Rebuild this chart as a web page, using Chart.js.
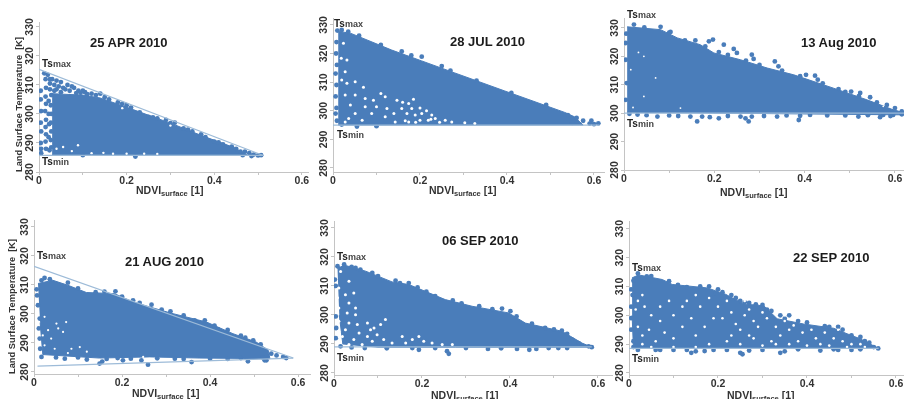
<!DOCTYPE html>
<html>
<head>
<meta charset="utf-8">
<script src="https://cdn.jsdelivr.net/npm/chart.js@4"></script>
<style>
html, body { margin: 0; padding: 0; background: #fff; width: 904px; height: 399px; overflow: hidden; }
#wrap { position: absolute; left: 0; top: 0; width: 904px; height: 399px; overflow: hidden; filter: blur(0.5px); }
canvas { position: absolute; }
.lbl { position: absolute; font-family: "Liberation Sans", Arial, sans-serif; font-weight: bold; white-space: nowrap; transform: translateY(-50%); }
.date { font-size: 13px; color: #1c1c1c; }
.ts { font-size: 10px; color: #222; }
.ts span { font-size: 9px; color: #444; }
.xt { font-size: 10.5px; color: #333; }
.xt sub { font-size: 7.5px; vertical-align: -2px; line-height: 0; }
</style>
</head>
<body>
<div id="wrap"></div>
<script>
const blue = "#4a7dba";
const lineBlue = "#9dbbd8";

const yTicks = [280, 290, 300, 310, 320, 330];
const xTicks = [0, 0.1, 0.2, 0.3, 0.4, 0.5, 0.6];
const xLabels = ["0", "", "0.2", "", "0.4", "", "0.6"];

// 25 APR 2010
const core1 = [[.03,307],[.10,306.5],[.14,305.5],[.215,301.5],[.306,296.5],[.367,292.8],[.444,288.5],[.474,286],[.03,286]];
const dots1 = [[.004,308],[.004,305],[.005,301],[.004,297],[.005,294],[.004,290],[.005,288],[.005,286.5],[.015,312],[.016,309],[.015,306],[.016,303.5],[.014,301],[.016,298],[.015,295.5],[.016,293],[.015,290.5],[.016,288],[.022,304.5],[.022,300],[.023,296.5],[.022,292],[.024,287.5],[.02,313.5],[.03,312],[.035,310],[.025,308.5],[.04,308.5],[.05,311],[.055,309],[.065,310],[.07,308],[.08,309],[.09,308],[.095,307.3],[.105,307.5],[.12,307],[.13,306.5],[.14,307],[.05,307.5],[.16,305],[.19,303.5],[.2,303],[.23,300.5],[.25,299],[.27,298.5],[.29,298],[.31,297],[.33,295],[.35,294],[.38,292],[.4,290.5],[.42,289.5],[.45,288],[.46,287],[.47,287],[.48,286.5],[.49,286],[.5,285.7],[.507,285.8],[.485,285.5],[.465,285.8],[.22,285.3],[.1,285.8],[.012,314],[.025,312],[.04,311.5],[.045,309.5],[.06,308.5],[.075,309.5],[.1,308],[.11,306.8],[.025,310.5],[.028,306.5],[.027,303],[.028,300],[.027,297],[.028,294],[.027,291],[.028,288.5],[.035,308],[.085,307.2],[.15,305.8],[.18,304],[.21,302.2],[.26,298.8],[.3,296.8],[.34,294.6],[.37,293],[.41,290.2],[.44,288.7]];
const holes1 = [[.055,288.6],[.089,289.2],[.147,286.6],[.169,286.3],[.2,286.3],[.04,288],[.075,287.2],[.12,286.5],[.24,286.3],[.27,286.2],[.19,302],[.3,296]];
const tsmax1 = [[0,315.4],[.512,285.7]];
const tsmin1 = [[0,285.7],[.512,285.7]];

// 28 JUL 2010
const core2 = [[.012,327.7],[.04,327.1],[.135,321.2],[.204,317.4],[.28,313.2],[.395,306.9],[.533,299.4],[.555,297.9],[.575,295],[.012,295]];
const dots2 = [[.01,328],[.02,328.2],[.035,327.6],[.158,320.7],[.204,318.9],[.25,315.6],[.008,324],[.007,320],[.009,316],[.006,313],[.008,309],[.006,305],[.008,301],[.006,299],[.009,296.5],[.02,295.2],[.055,294.5],[.1,294.6],[.594,296.5],[.61,295.6],[.575,296.5],[.56,297.5],[.54,298.5],[.59,295.5],[.6,295.3],[.55,295.8],[.06,326.2],[.11,323],[.18,319.3],[.27,314],[.33,310.5],[.41,306.2],[.49,302]];
const holes2 = [[.024,323.6],[.019,318.3],[.032,317.7],[.028,313.6],[.02,310.7],[.032,309.6],[.051,310.1],[.07,308.2],[.028,305.5],[.051,305.5],[.074,304.3],[.093,303.7],[.074,301.4],[.1,301.4],[.12,304.9],[.124,300.8],[.147,303.7],[.158,300.8],[.174,302.5],[.181,300.8],[.17,299],[.189,298.5],[.204,299],[.227,298.5],[.235,297.3],[.219,296.7],[.166,296.5],[.2,296.7],[.12,297.9],[.089,299],[.051,299],[.036,297.3],[.028,296.1],[.067,296.7],[.258,296.7],[.273,296.1],[.303,295.8],[.326,295.5],[.143,296.1],[.174,296.1],[.04,302],[.11,306],[.14,299],[.19,296],[.16,303],[.2,301],[.185,304],[.215,300],[.225,297],[.245,296]];
const tsmin2 = [[0,295],[.613,295]];

// 13 Aug 2010
const core3 = [[.007,330.4],[.081,329.4],[.118,326.5],[.169,324.1],[.199,321.2],[.258,318.8],[.317,315.9],[.376,313.5],[.464,308.8],[.538,304.7],[.596,301.2],[.625,300],[.625,299.4],[.007,300.3]];
const dots3 = [[.022,331.2],[.045,330.2],[.081,330.4],[.103,328.6],[.158,325.6],[.188,325.3],[.197,325.9],[.221,324.1],[.243,322.6],[.25,321.2],[.283,320.6],[.287,319.1],[.334,318.2],[.342,316.5],[.403,313.5],[.423,313.2],[.429,311.8],[.475,308.5],[.503,307.6],[.523,307.1],[.545,305.6],[.582,302.9],[.6,301.8],[.615,300.6],[.074,298.8],[.147,298.8],[.162,297.1],[.173,298.8],[.21,298.2],[.258,298.8],[.269,298.2],[.276,297.1],[.283,298.8],[.339,298.8],[.387,297.6],[.39,299.1],[.412,299.4],[.519,298.8],[.567,298.6],[.574,299.4],[.596,299.4],[.615,299.6],[.004,324.7],[.004,318.8],[.006,310.6],[.004,304.7],[.012,299.8],[.005,328],[.1,328.3],[.135,325.6],[.18,323.5],[.21,321.5],[.23,320.5],[.27,318.5],[.3,317],[.35,315],[.39,313],[.44,310.5],[.49,307.5],[.52,306],[.56,303.8],[.03,299.5],[.05,299.3],[.1,299.2],[.12,299],[.19,298.6],[.23,299],[.31,299],[.36,299.2],[.45,299.2],[.49,299.2],[.54,299.3],[.59,299]];
const holes3 = [[.032,321.4],[.015,315.3],[.044,320],[.07,312.4],[.044,305.9],[.125,301.8],[.574,302.4],[.02,302]];
const tsmin3 = [[0,300],[.62,300]];

// 21 AUG 2010
const core4 = [[.009,310.5],[.043,311.6],[.077,309.9],[.119,307.4],[.183,307],[.225,304.1],[.263,302.4],[.316,300.1],[.392,297.2],[.452,293.2],[.505,290.3],[.532,287.5],[.536,284.6],[.377,284.8],[.263,285.2],[.149,284.8],[.02,286],[.014,297]];
const dots4 = [[.566,285.2],[.551,285.7],[.539,286.3],[.573,284.8],[.528,284],[.52,285],[.185,307.8],[.225,304.7],[.267,303.2],[.31,300.9],[.365,297.8],[.388,297.8],[.418,294.7],[.498,290.9],[.149,282.9],[.155,283.6],[.259,282.5],[.244,284],[.358,283.4],[.486,283.7],[.524,284],[.202,284],[.07,284.6],[.017,285.2],[.013,298.4],[.011,295],[.013,291.5],[.014,288],[.007,306.4],[.009,303],[.006,308.5],[.017,311.6],[.024,312.4],[.036,312],[.077,310.8],[.1,308.8],[.14,307.5],[.16,307.7],[.2,306],[.24,303.8],[.29,301.5],[.34,299.5],[.41,296],[.44,294.5],[.47,292.5],[.48,291.8],[.515,289.5],[.05,285],[.1,285],[.12,284.3],[.165,284.5],[.19,284.8],[.22,284.6],[.28,284.7],[.32,284.6],[.34,284.5],[.4,284.6],[.44,284.5],[.47,284.8]];
const holes4 = [[.051,296.7],[.032,294.4],[.055,295],[.024,299],[.039,291.5],[.024,289.2],[.085,288],[.104,288.6],[.066,293.8],[.02,292.6],[.073,297.2],[.248,285.2],[.077,286.5],[.047,288],[.12,287]];
const tsmax4 = [[0,316.4],[.589,284.8]];
const tsmin4 = [[.008,282],[.589,284.8]];

// 06 SEP 2010
const core5 = [[.008,316],[.023,317.2],[.072,315.1],[.132,311.4],[.17,310.5],[.253,305.3],[.314,303],[.397,300.7],[.435,297.2],[.518,294.4],[.564,290.3],[.586,288.9],[.42,288.9],[.276,288.9],[.1,288.9],[.02,290],[.012,300]];
const dots5 = [[.002,312.2],[.004,310],[.004,299.5],[.005,295.5],[.004,292],[.015,289.2],[.07,288.6],[.178,288.6],[.193,288],[.257,287.5],[.261,286.6],[.416,288.3],[.444,288],[.488,288.6],[.51,288.6],[.586,288.9],[.579,289.2],[.556,290.3],[.541,291.5],[.518,294.6],[.401,301.3],[.382,302.2],[.17,311],[.14,311.8],[.023,317.4],[.008,316.8],[.087,314.5],[.049,316.2],[.04,316.6],[.06,315.6],[.1,313.4],[.15,311],[.19,309.5],[.21,308],[.23,306.5],[.27,305],[.29,304],[.33,303],[.36,302],[.415,299.5],[.45,297],[.48,295.5],[.5,295],[.53,293.5],[.04,288.8],[.12,288.5],[.23,288.6],[.3,288.6],[.35,288.3],[.38,288.5],[.46,288.3],[.53,288.6]];
const holes5 = [[.015,315],[.034,311.6],[.011,309.3],[.026,307],[.008,305.9],[.034,304.1],[.011,302.4],[.03,300.7],[.049,300.1],[.034,297.2],[.011,297.8],[.053,296.7],[.076,297.2],[.026,294.9],[.057,293.8],[.083,294.9],[.019,292.6],[.045,291.5],[.076,292.6],[.091,295.5],[.098,293.2],[.106,296.7],[.117,298.4],[.011,294.4],[.113,291.5],[.155,292.6],[.178,291.5],[.193,292.6],[.204,290.9],[.223,290.3],[.246,289.8],[.269,289.8],[.132,290.3],[.163,290.3],[.049,302.4],[.045,307.6],[.087,290.9],[.064,289.8],[.034,289.8]];
const tsmin5 = [[0,289],[.586,289]];

// 22 SEP 2010
const core6 = [[.007,313],[.022,314],[.075,312.4],[.097,310.7],[.176,309.5],[.217,307.3],[.258,303.9],[.303,303.3],[.333,298.8],[.392,297],[.46,295.5],[.49,293.6],[.519,291.9],[.561,288.5],[.01,288.5],[.007,300]];
const dots6 = [[.02,314.5],[.04,313.5],[.01,312],[.005,309],[.008,307],[.18,310],[.2,309],[.195,307.5],[.23,307],[.25,305],[.26,304.5],[.3,303.6],[.31,302],[.36,300],[.38,298],[.42,295.5],[.45,296],[.47,296],[.5,293],[.51,291.5],[.54,290.5],[.55,289],[.56,288.5],[.14,287],[.15,287.5],[.25,287],[.255,286.5],[.34,287],[.35,287.5],[.47,288],[.5,288],[.02,288],[.07,288],[.22,288],[.005,303],[.005,299],[.005,295],[.01,291],[.01,289],[.13,288],[.05,313.6],[.09,311.8],[.11,310.5],[.13,309.8],[.16,310],[.21,308],[.24,306],[.27,304.3],[.285,303.8],[.32,301.5],[.34,300],[.35,298.8],[.4,297.5],[.44,296.2],[.48,295],[.52,292.5],[.53,291],[.06,288],[.1,288],[.17,287.6],[.19,288],[.27,287.8],[.3,288],[.38,288.2],[.43,287.8],[.46,288.2],[.52,288.2]];
const holes6 = [[.03,307],[.02,305],[.035,303],[.015,302],[.05,300],[.07,298],[.1,300],[.045,295],[.03,293],[.07,303],[.09,305],[.12,303],[.14,299],[.13,305],[.15,307],[.16,303],[.18,306],[.2,303],[.22,305],[.19,299],[.17,296],[.21,299],[.23,301],[.24,297],[.26,300],[.27,302],[.25,295],[.28,298],[.29,296],[.31,299],[.3,301],[.33,296],[.35,298],[.36,295],[.34,293],[.37,296.5],[.39,294],[.41,295],[.38,291],[.42,292],[.44,294],[.43,290],[.46,292],[.45,289.5],[.48,291],[.47,295],[.5,290],[.49,289],[.52,290],[.53,289],[.4,289.5],[.36,290],[.32,291],[.28,292],[.22,291],[.15,293],[.1,292],[.06,291],[.03,290],[.02,296],[.08,294],[.12,296],[.25,290],[.18,290],[.3,289.5],[.1,289],[.15,289],[.05,289],[.23,293],[.27,293],[.33,290],[.35,300],[.26,305]];
const tsmin6 = [[0,288.5],[.561,288.5]];

const xy = a => a.map(p => ({ x: p[0], y: p[1] }));

// left/right/top/bottom are the plot box in page pixels
const panels = [
  { left: 39, right: 308, top: 22, bottom: 172, xMax: .614, yMin: 280, yMax: 331.7, yTitlePad: 5, holeR: 1.2,
    core: core1, dots: dots1, holes: holes1, lines: [tsmax1, tsmin1],
    date: ["25 APR 2010", 90, 42], tsmax: [42, 63], tsmin: [42, 161], xt: [136, 190] },
  { left: 333, right: 604, top: 18, bottom: 172, xMax: .623, yMin: 278.6, yMax: 332.4, holeR: 1.5,
    core: core2, dots: dots2, holes: holes2, lines: [tsmin2],
    date: ["28 JUL 2010", 450, 41], tsmax: [334, 23], tsmin: [337, 134], xt: [429, 190] },
  { left: 624, right: 904, top: 18, bottom: 170, xMax: .62, yMin: 280, yMax: 333.5, holeR: 0.9,
    core: core3, dots: dots3, holes: holes3, lines: [tsmin3],
    date: ["13 Aug 2010", 801, 42], tsmax: [627, 14], tsmin: [627, 123], xt: [720, 192] },
  { left: 34, right: 310, top: 220, bottom: 374, xMax: .627, yMin: 279.3, yMax: 332.4, yTitlePad: 3, holeR: 1.1,
    core: core4, dots: dots4, holes: holes4, lines: [tsmax4, tsmin4],
    date: ["21 AUG 2010", 125, 261], tsmax: [37, 255], xt: [132, 393] },
  { left: 334, right: 612, top: 221, bottom: 375, xMax: .632, yMin: 279.3, yMax: 332.4, holeR: 1.5,
    core: core5, dots: dots5, holes: holes5, lines: [tsmin5],
    date: ["06 SEP 2010", 442, 240], tsmax: [337, 256], tsmin: [337, 357], xt: [431, 395] },
  { left: 629, right: 904, top: 221, bottom: 375, xMax: .618, yMin: 279.3, yMax: 332.7, holeR: 1.3,
    core: core6, dots: dots6, holes: holes6, lines: [tsmin6],
    date: ["22 SEP 2010", 793, 257], tsmax: [632, 267], tsmin: [632, 358], xt: [727, 395] }
];

const wrap = document.getElementById("wrap");
const font = { family: '"Liberation Sans", Arial, sans-serif', weight: "bold", size: 10.5 };
const axisW = 30, axisH = 22, padTop = 10, padRight = 14;

function addLabel(cls, html, x, y) {
  const d = document.createElement("div");
  d.className = "lbl " + cls;
  d.innerHTML = html;
  d.style.left = x + "px";
  d.style.top = y + "px";
  wrap.appendChild(d);
}

panels.forEach(p => {
  const c = document.createElement("canvas");
  c.width = axisW + (p.right - p.left) + padRight;
  c.height = padTop + (p.bottom - p.top) + axisH;
  c.style.left = (p.left - axisW) + "px";
  c.style.top = (p.top - padTop) + "px";
  wrap.appendChild(c);

  const datasets = [
    { data: xy(p.core), showLine: true, fill: "shape", tension: 0, pointRadius: 0, borderWidth: 1, borderColor: blue, backgroundColor: blue, order: 4 },
    { data: xy(p.dots), pointRadius: 2.4, pointBackgroundColor: blue, pointBorderWidth: 0, order: 3 },
    { data: xy(p.holes), pointRadius: p.holeR, pointBackgroundColor: "#fff", pointBorderWidth: 0, order: 2 }
  ];
  p.lines.forEach(l => datasets.push({ data: xy(l), showLine: true, pointRadius: 0, borderWidth: 1.2, borderColor: lineBlue, order: 1 }));

  new Chart(c, {
    type: "scatter",
    data: { datasets: datasets },
    options: {
      responsive: false,
      animation: false,
      layout: { padding: { top: padTop, right: padRight, left: 0, bottom: 0 } },
      plugins: { legend: { display: false }, tooltip: { enabled: false } },
      scales: {
        x: {
          type: "linear", min: 0, max: p.xMax,
          afterBuildTicks: s => { s.ticks = xTicks.map(v => ({ value: v })); },
          afterFit: s => { s.height = axisH; },
          border: { color: "#c4c4c4" },
          grid: { drawOnChartArea: false, tickLength: 3, color: "#c4c4c4" },
          ticks: { autoSkip: false, maxRotation: 0, padding: 0, color: "#333", font: font, callback: (v, i) => xLabels[i] }
        },
        y: {
          type: "linear", min: p.yMin, max: p.yMax,
          afterBuildTicks: s => { s.ticks = yTicks.map(v => ({ value: v })); },
          afterFit: s => { s.width = axisW; },
          border: { color: "#c4c4c4" },
          grid: { drawOnChartArea: false, tickLength: 3, color: "#c4c4c4" },
          title: { display: p.yTitlePad !== undefined, text: "Land Surface Temperature  [K]", align: "start", color: "#333", font: { family: font.family, weight: "bold", size: 9.3 }, padding: { top: p.yTitlePad || 0, bottom: 0 } },
          ticks: { minRotation: 90, maxRotation: 90, crossAlign: "center", padding: -3, color: "#333", font: font }
        }
      }
    }
  });

  addLabel("date", p.date[0], p.date[1], p.date[2]);
  addLabel("ts", "Ts<span>max</span>", p.tsmax[0], p.tsmax[1]);
  if (p.tsmin) addLabel("ts", "Ts<span>min</span>", p.tsmin[0], p.tsmin[1]);
  addLabel("xt", "NDVI<sub>surface</sub> [1]", p.xt[0], p.xt[1]);
});
</script>
</body>
</html>
